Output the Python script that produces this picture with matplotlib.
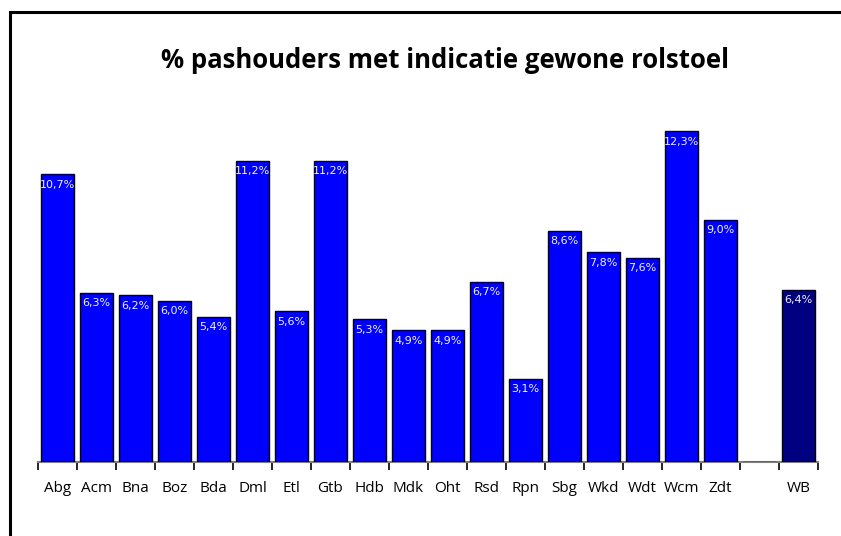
import matplotlib.pyplot as plt
import numpy as np
from matplotlib.patches import Rectangle

# data
categories = ['Abg', 'Acm', 'Bna', 'Boz', 'Bda', 'Dml', 'Etl', 'Gtb', 'Hdb', 'Mdk',
              'Oht', 'Rsd', 'Rpn', 'Sbg', 'Wkd', 'Wdt', 'Wcm', 'Zdt', '', 'WB']
values = [10.7, 6.3, 6.2, 6.0, 5.4, 11.2, 5.6, 11.2, 5.3, 4.9,
          4.9, 6.7, 3.1, 8.6, 7.8, 7.6, 12.3, 9.0, 0.0, 6.4]
labels = ['10,7%', '6,3%', '6,2%', '6,0%', '5,4%', '11,2%', '5,6%', '11,2%', '5,3%', '4,9%',
          '4,9%', '6,7%', '3,1%', '8,6%', '7,8%', '7,6%', '12,3%', '9,0%', '', '6,4%']

plt.rcParams['font.family'] = ['Open Sans', 'DejaVu Sans']

W, H = 841, 536
fig = plt.figure(figsize=(W / 100, H / 100), dpi=100)

# outer frame (clipped at right and bottom like the reference)
fig.patches.append(Rectangle((10 / W, -0.1), 1.2, 1 - 12 / H + 0.1,
                             transform=fig.transFigure, fill=False,
                             edgecolor='black', linewidth=2.2))

left, right = 38, 818
base, top = 462, 110
ax = fig.add_axes([left / W, (H - base) / H, (right - left) / W, (base - top) / H])

x = np.arange(len(categories))
colors = ['#0000FF'] * len(categories)
colors[-1] = '#000080'
bars = ax.bar(x, values, width=0.83, color=colors, edgecolor='black', linewidth=1.0, zorder=3)

for xi, v, lab in zip(x, values, labels):
    if lab:
        ax.text(xi, v - 0.2, lab, ha='center', va='top', color='#f2f2f2',
                fontsize=8, family='DejaVu Sans', zorder=4)

ax.set_xlim(-0.5, len(categories) - 0.5)
ax.set_ylim(0, (base - top) / 26.9)

for s in ['top', 'right', 'left']:
    ax.spines[s].set_visible(False)
ax.spines['bottom'].set_color('#7f7f7f')
ax.spines['bottom'].set_linewidth(1.5)
ax.set_yticks([])

ax.set_xticks(np.arange(len(categories) + 1) - 0.5)
ax.set_xticklabels([])
ax.tick_params(axis='x', length=6, width=1.2, color='black', direction='out')
ax.set_xticks(x, minor=True)
ax.set_xticklabels(categories, minor=True, fontsize=11)
ax.tick_params(axis='x', which='minor', length=0, pad=14)

fig.text(445 / W, 1 - 60 / H, '% pashouders met indicatie gewone rolstoel',
         ha='center', va='center', fontsize=18.5, fontweight='bold')

fig.savefig('out.png', dpi=100)
